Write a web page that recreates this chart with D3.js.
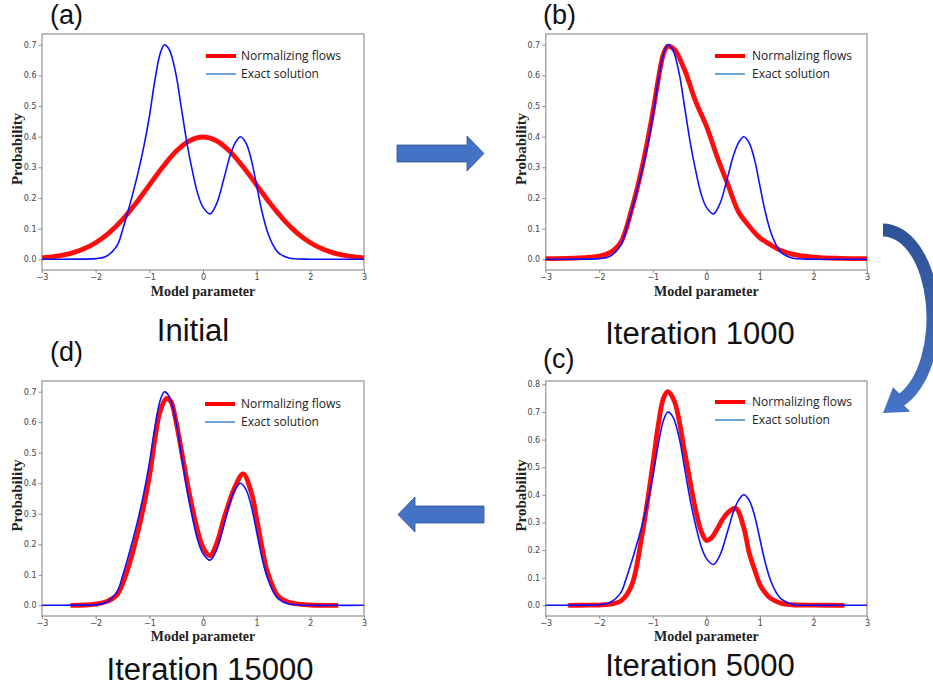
<!DOCTYPE html>
<html><head><meta charset="utf-8">
<script src="https://cdn.jsdelivr.net/npm/d3@7"></script>
<style>html,body{margin:0;padding:0;background:#fff;}svg{display:block;}</style>
</head><body>
<svg id="chart" width="933" height="688"></svg>
<script>
// ---------- data ----------
const xTicks = [-3, -2, -1, 0, 1, 2, 3];
const yTicks07 = [0, 0.1, 0.2, 0.3, 0.4, 0.5, 0.6, 0.7];
const yTicks08 = [0, 0.1, 0.2, 0.3, 0.4, 0.5, 0.6, 0.7, 0.8];
const seriesNames = ["Normalizing flows", "Exact solution"];
const panelLabels = ["(a)", "(b)", "(c)", "(d)"];
const captions = ["Initial", "Iteration 1000", "Iteration 5000", "Iteration 15000"];

// exact solution (same in all panels)
const exactX = [-3, -2.4, -2.0, -1.8, -1.6, -1.5, -1.4, -1.3, -1.2, -1.1, -1.0, -0.9, -0.8, -0.72, -0.65, -0.6, -0.5, -0.4, -0.3, -0.2, -0.1, 0.0, 0.13, 0.25, 0.4, 0.5, 0.6, 0.7, 0.8, 0.9, 1.0, 1.1, 1.2, 1.3, 1.4, 1.6, 2.0, 2.4, 3.0];
const exactY = [0, 0.0005, 0.002, 0.01, 0.045, 0.095, 0.155, 0.22, 0.29, 0.37, 0.465, 0.58, 0.67, 0.70, 0.69, 0.672, 0.60, 0.49, 0.38, 0.29, 0.215, 0.17, 0.148, 0.18, 0.27, 0.335, 0.38, 0.40, 0.38, 0.325, 0.24, 0.155, 0.09, 0.048, 0.022, 0.004, 0.0003, 0, 0];

// normalizing flows, (a) initial
const flowAX = [-3, -2.75, -2.5, -2.25, -2, -1.75, -1.5, -1.25, -1, -0.75, -0.5, -0.25, 0, 0.25, 0.5, 0.75, 1, 1.25, 1.5, 1.75, 2, 2.25, 2.5, 2.75, 3];
const flowAY = [0.0044, 0.0091, 0.0175, 0.0317, 0.054, 0.0863, 0.1295, 0.1826, 0.242, 0.3011, 0.3521, 0.3867, 0.3989, 0.3867, 0.3521, 0.3011, 0.242, 0.1826, 0.1295, 0.0863, 0.054, 0.0317, 0.0175, 0.0091, 0.0044];

// (b) iteration 1000
const flowBX = [-3, -2.5, -2.0, -1.8, -1.6, -1.4, -1.2, -1.0, -0.9, -0.8, -0.72, -0.6, -0.4, -0.2, 0.0, 0.2, 0.4, 0.6, 0.8, 1.0, 1.1, 1.2, 1.4, 1.6, 2.0, 2.5, 3.0];
const flowBY = [0.002, 0.004, 0.01, 0.022, 0.055, 0.16, 0.30, 0.48, 0.585, 0.67, 0.695, 0.685, 0.615, 0.515, 0.435, 0.335, 0.245, 0.155, 0.108, 0.07, 0.058, 0.047, 0.028, 0.017, 0.007, 0.003, 0.002];

// (c) iteration 5000
const flowCX = [-2.58, -2.2, -2.0, -1.8, -1.6, -1.4, -1.2, -1.0, -0.9, -0.8, -0.72, -0.6, -0.4, -0.2, -0.1, 0.0, 0.1, 0.2, 0.3, 0.4, 0.55, 0.7, 0.8, 0.9, 1.0, 1.1, 1.2, 1.4, 1.6, 2.0, 2.58];
const flowCY = [0, 0.0005, 0.001, 0.004, 0.015, 0.07, 0.255, 0.51, 0.65, 0.75, 0.773, 0.74, 0.55, 0.345, 0.27, 0.235, 0.245, 0.275, 0.31, 0.335, 0.351, 0.28, 0.19, 0.13, 0.075, 0.045, 0.025, 0.007, 0.002, 0.0005, 0];

// (d) iteration 15000
const flowDX = [-2.47, -2.2, -2.0, -1.8, -1.6, -1.4, -1.2, -1.0, -0.9, -0.8, -0.68, -0.6, -0.5, -0.4, -0.2, 0.0, 0.13, 0.25, 0.4, 0.6, 0.75, 0.9, 1.0, 1.1, 1.2, 1.4, 1.6, 2.0, 2.52];
const flowDY = [0, 0.001, 0.004, 0.012, 0.035, 0.12, 0.25, 0.42, 0.54, 0.635, 0.678, 0.668, 0.60, 0.505, 0.32, 0.19, 0.163, 0.20, 0.29, 0.39, 0.431, 0.37, 0.285, 0.19, 0.11, 0.03, 0.01, 0.001, 0];

// ---------- drawing ----------
const svg = d3.select("#chart");
const zip = (xs, ys) => xs.map((x, i) => [x, ys[i]]);

const panels = [
  {L: 42,    R: 364, T: 34,  B: 270, yDom: [-0.035, 0.735], yT: yTicks07, flow: zip(flowAX, flowAY),
   label: panelLabels[0], labX: 50,  labY: 24,  cap: captions[0], capX: 193, capY: 341,
   legX: 206, legTX: 241, legY: 56, ttlY: 296},
  {L: 545.7, R: 867, T: 34,  B: 270, yDom: [-0.035, 0.735], yT: yTicks07, flow: zip(flowBX, flowBY),
   label: panelLabels[1], labX: 543, labY: 24,  cap: captions[1], capX: 700, capY: 344,
   legX: 715, legTX: 752, legY: 56, ttlY: 296},
  {L: 545.7, R: 867, T: 381, B: 616, yDom: [-0.0387, 0.812], yT: yTicks08, flow: zip(flowCX, flowCY),
   label: panelLabels[2], labX: 543, labY: 368, cap: captions[2], capX: 700, capY: 676,
   legX: 715, legTX: 752, legY: 402, ttlY: 641},
  {L: 42,    R: 364, T: 381, B: 616, yDom: [-0.035, 0.735], yT: yTicks07, flow: zip(flowDX, flowDY),
   label: panelLabels[3], labX: 50,  labY: 361, cap: captions[3], capX: 210, capY: 680,
   legX: 205, legTX: 241, legY: 404, ttlY: 641}
];
const exact = zip(exactX, exactY);

panels.forEach(p => {
  const x = d3.scaleLinear().domain([-3, 3]).range([p.L, p.R]);
  const y = d3.scaleLinear().domain(p.yDom).range([p.B, p.T]);
  const g = svg.append("g");

  // frame
  g.append("rect").attr("x", p.L).attr("y", p.T).attr("width", p.R - p.L).attr("height", p.B - p.T)
    .attr("fill", "none").attr("stroke", "#a3a3a3").attr("stroke-width", 1.4);

  // axes
  const ax = g.append("g").attr("transform", `translate(0,${p.B})`)
    .call(d3.axisBottom(x).tickValues(xTicks).tickFormat(d3.format("d")).tickSize(3).tickSizeOuter(0).tickPadding(1));
  const ay = g.append("g").attr("transform", `translate(${p.L},0)`)
    .call(d3.axisLeft(y).tickValues(p.yT).tickFormat(d3.format(".1f")).tickSize(3.5).tickSizeOuter(0).tickPadding(2));
  [ax, ay].forEach(a => {
    a.select(".domain").remove();
    a.selectAll(".tick line").attr("stroke", "#777").attr("stroke-width", 0.8);
    a.selectAll(".tick text").attr("font-family", "DejaVu Sans").attr("font-size", 8).attr("fill", "#444");
  });

  // axis titles
  g.append("text").attr("x", (p.L + p.R) / 2).attr("y", p.ttlY).attr("text-anchor", "middle")
    .attr("font-family", "Liberation Serif").attr("font-weight", "bold").attr("font-size", 14)
    .attr("fill", "#222").text("Model parameter");
  g.append("text").attr("transform", `translate(${p.L - 20},${(p.T + p.B) / 2 - 3}) rotate(-90)`)
    .attr("text-anchor", "middle")
    .attr("font-family", "Liberation Serif").attr("font-weight", "bold").attr("font-size", 15)
    .attr("fill", "#222").text("Probability");

  // curves: flows first, exact on top
  const line = d3.line().x(d => x(d[0])).y(d => y(d[1])).curve(d3.curveCatmullRom.alpha(0.5));
  g.append("path").datum(p.flow).attr("d", line).attr("fill", "none")
    .attr("stroke", "#ff0000").attr("stroke-width", 4.8).attr("stroke-linejoin", "round").attr("opacity", 0.95);
  g.append("path").datum(exact).attr("d", line).attr("fill", "none")
    .attr("stroke", "#1010ff").attr("stroke-width", 1.6).attr("stroke-linejoin", "round");

  // legend
  const lg = g.append("g");
  lg.append("line").attr("x1", p.legX).attr("x2", p.legX + 30).attr("y1", p.legY).attr("y2", p.legY)
    .attr("stroke", "#ff0000").attr("stroke-width", 4);
  lg.append("line").attr("x1", p.legX).attr("x2", p.legX + 30).attr("y1", p.legY + 18).attr("y2", p.legY + 18)
    .attr("stroke", "#5b9bd5").attr("stroke-width", 1.8);
  seriesNames.forEach((s, i) => {
    lg.append("text").attr("x", p.legTX).attr("y", p.legY + i * 18).attr("dy", "0.35em")
      .attr("font-family", "Open Sans").attr("font-size", 12).attr("fill", "#222").text(s);
  });

  // panel label and caption
  g.append("text").attr("x", p.labX).attr("y", p.labY)
    .attr("font-family", "Liberation Sans").attr("font-size", 27).attr("fill", "#111").text(p.label);
  g.append("text").attr("x", p.capX).attr("y", p.capY).attr("text-anchor", "middle")
    .attr("font-family", "Liberation Sans").attr("font-size", 31).attr("fill", "#111").text(p.cap);
});

// ---------- arrows ----------
const defs = svg.append("defs");
const grad = defs.append("linearGradient").attr("id", "cg").attr("x1", 0).attr("y1", 0).attr("x2", 0).attr("y2", 1);
grad.append("stop").attr("offset", "0%").attr("stop-color", "#2d5294");
grad.append("stop").attr("offset", "100%").attr("stop-color", "#4674c6");

// straight right arrow (a -> b)
const rightArrow = d3.path();
rightArrow.moveTo(397, 145); rightArrow.lineTo(467, 145); rightArrow.lineTo(467, 136);
rightArrow.lineTo(484, 153.5); rightArrow.lineTo(467, 171); rightArrow.lineTo(467, 162);
rightArrow.lineTo(397, 162); rightArrow.closePath();
svg.append("path").attr("d", rightArrow.toString()).attr("fill", "#4472c4").attr("stroke", "#2f528f").attr("stroke-width", 0.8);

// straight left arrow (c -> d)
const leftArrow = d3.path();
leftArrow.moveTo(484, 506); leftArrow.lineTo(415, 506); leftArrow.lineTo(415, 497);
leftArrow.lineTo(398, 514.5); leftArrow.lineTo(415, 532); leftArrow.lineTo(415, 523);
leftArrow.lineTo(484, 523); leftArrow.closePath();
svg.append("path").attr("d", leftArrow.toString()).attr("fill", "#4472c4").attr("stroke", "#2f528f").attr("stroke-width", 0.8);

// curved arrow (b -> c)
{
  const cx = 883, cy = 318, rx = 50, ry = 88, h = 6.5;
  const te = 68 * Math.PI / 180;
  const pt = (a, b, t) => [cx + a * Math.cos(t), cy + b * Math.sin(t)];
  const oS = pt(rx + h, ry + h, -Math.PI / 2), iS = pt(rx - h, ry - h, -Math.PI / 2);
  const oE = pt(rx + h, ry + h, te), iE = pt(rx - h, ry - h, te), mE = pt(rx, ry, te);
  let tx = -rx * Math.sin(te), ty = ry * Math.cos(te);
  const tl = Math.hypot(tx, ty); tx /= tl; ty /= tl;
  const nx = ty, ny = -tx; // outward normal
  const w = 15, len = 23;
  const wo = [mE[0] + nx * w, mE[1] + ny * w], wi = [mE[0] - nx * w, mE[1] - ny * w];
  const tip = [mE[0] + tx * len, mE[1] + ty * len];
  const d = `M${oS[0]},${oS[1]} A${rx + h},${ry + h} 0 0 1 ${oE[0]},${oE[1]} L${wo[0]},${wo[1]} L${tip[0]},${tip[1]} L${wi[0]},${wi[1]} L${iE[0]},${iE[1]} A${rx - h},${ry - h} 0 0 0 ${iS[0]},${iS[1]} Z`;
  svg.append("path").attr("d", d).attr("fill", "url(#cg)");
}
</script>
</body></html>
